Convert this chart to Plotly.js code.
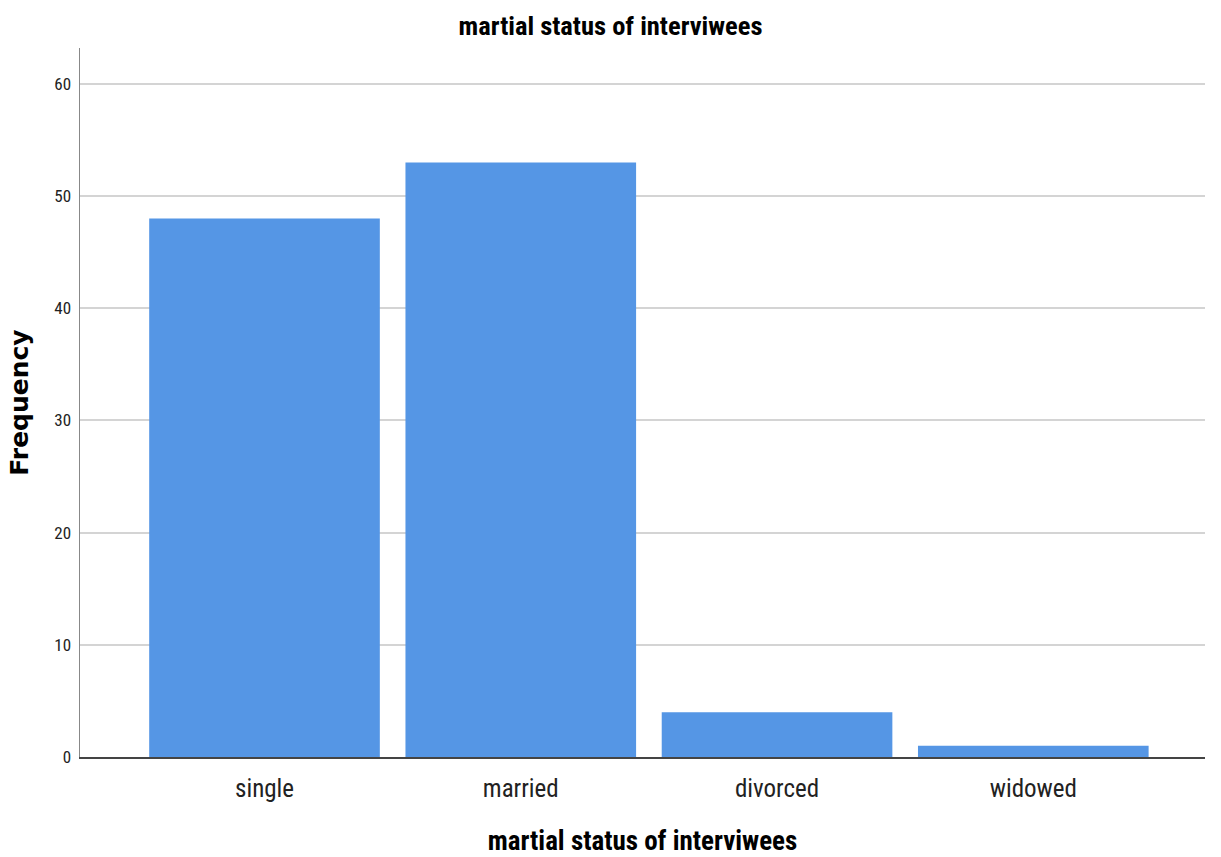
<!DOCTYPE html>
<html>
<head>
<meta charset="utf-8">
<script src="https://cdn.plot.ly/plotly-3.0.1.min.js"></script>
<style>html,body{margin:0;padding:0;background:#fff;}#chart{width:1221px;height:857px;}</style>
</head>
<body>
<div id="chart"></div>
<script>
const categories = ["single", "married", "divorced", "widowed"];
const frequencies = [48, 53, 4, 1];
const yTicks = [0, 10, 20, 30, 40, 50, 60];

const narrow = "'Liberation Sans Narrow', 'Arial Narrow', 'Roboto Condensed', sans-serif";

Plotly.newPlot("chart", [{
  type: "bar",
  x: categories,
  y: frequencies,
  marker: {color: "#5596E5", line: {width: 0}},
  hoverinfo: "x+y"
}], {
  width: 1221, height: 857,
  margin: {l: 80, r: 16, t: 48, b: 100},
  paper_bgcolor: "#fff", plot_bgcolor: "#fff",
  bargap: 0.1,
  showlegend: false,
  title: {text: "<b>martial status of interviwees</b>", x: 0.5, xanchor: "center", y: 0.97, yanchor: "middle",
          font: {family: narrow, size: 26.5, color: "#000"}},
  xaxis: {
    type: "category", range: [-0.72, 3.67],
    showline: true, linecolor: "#444", linewidth: 1.5,
    showgrid: false, ticks: "outside", ticklen: 8, tickcolor: "rgba(0,0,0,0)", zeroline: false,
    tickfont: {family: narrow, size: 25, color: "#222"},
    title: {text: "<b>martial status of interviwees</b>", standoff: 36,
            font: {family: narrow, size: 27, color: "#000"}}
  },
  yaxis: {
    range: [0, 63.2], tickvals: yTicks, ticktext: yTicks.map(String),
    showline: true, linecolor: "#888", linewidth: 1.5,
    showgrid: true, gridcolor: "#d4d4d4", gridwidth: 2,
    zeroline: false, ticks: "outside", ticklen: 4, tickcolor: "rgba(0,0,0,0)",
    tickfont: {family: narrow, size: 17, color: "#222"},
    title: {text: "<b>Frequency</b>", standoff: 18,
            font: {family: "'DejaVu Sans', Verdana, sans-serif", size: 25, color: "#000"}}
  }
}, {displayModeBar: false, staticPlot: true});
</script>
</body>
</html>
